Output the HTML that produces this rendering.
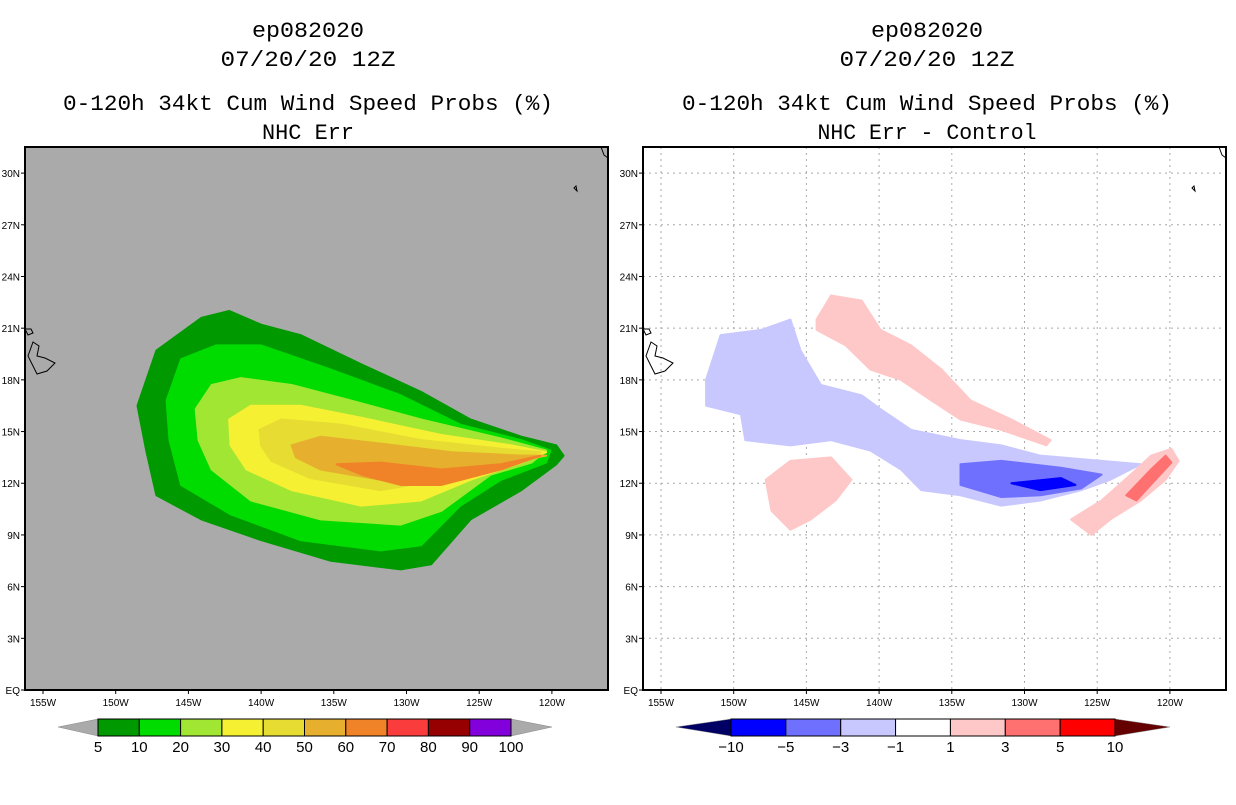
<!DOCTYPE html>
<html><head><meta charset="utf-8"><style>
body{margin:0;background:#fff;width:1236px;height:800px;overflow:hidden}
svg text{font-family:"Liberation Sans",sans-serif;fill:#000}
svg text.t{font-family:"Liberation Mono",monospace}
</style></head><body>
<svg id="s" width="1236" height="800" viewBox="0 0 1236 800">
<g font-size="22" text-anchor="middle">
<text class="t" x="308" y="37" textLength="112" lengthAdjust="spacingAndGlyphs">ep082020</text>
<text class="t" x="308" y="66" textLength="175" lengthAdjust="spacingAndGlyphs">07/20/20 12Z</text>
<text class="t" x="308" y="110" textLength="490" lengthAdjust="spacingAndGlyphs">0-120h 34kt Cum Wind Speed Probs (%)</text>
<text class="t" x="308" y="139" textLength="92" lengthAdjust="spacingAndGlyphs">NHC Err</text></g>
<g font-size="22" text-anchor="middle">
<text class="t" x="927" y="37" textLength="112" lengthAdjust="spacingAndGlyphs">ep082020</text>
<text class="t" x="927" y="66" textLength="175" lengthAdjust="spacingAndGlyphs">07/20/20 12Z</text>
<text class="t" x="927" y="110" textLength="490" lengthAdjust="spacingAndGlyphs">0-120h 34kt Cum Wind Speed Probs (%)</text>
<text class="t" x="927" y="139" textLength="219" lengthAdjust="spacingAndGlyphs">NHC Err - Control</text></g>
<g id="L"></g>
<g id="R"></g>
</svg>
<script>
const lonTicks=[-155,-150,-145,-140,-135,-130,-125,-120];
const latTicks=[0,3,6,9,12,15,18,21,24,27,30];
const probLevels=['5','10','20','30','40','50','60','70','80','90','100'];
const probColors=['#009900','#00dc00','#a0e632','#f5f032','#e6dc32','#e6af2d','#f08228','#fa3c3c','#960000','#8200dc'];
const diffLevels=['-10','-5','-3','-1','1','3','5','10'];
const diffColors=['#0000ff','#7070ff','#c8c8ff','#ffffff','#ffc8c8','#ff7070','#ff0000'];
const p5=[[-148.5,16.5],[-147.2,19.7],[-144.1,21.6],[-142.2,22.0],[-140.0,21.2],[-137.3,20.6],[-133.1,18.9],[-129.0,17.3],[-125.6,15.7],[-122.1,14.7],[-119.7,14.2],[-119.2,13.6],[-119.7,13.1],[-122.1,11.6],[-125.6,9.9],[-128.3,7.3],[-130.4,7.0],[-135.2,7.5],[-140.0,8.7],[-144.1,9.9],[-147.2,11.3],[-147.9,13.9]];
const p10=[[-146.5,16.8],[-145.5,19.2],[-143.1,20.0],[-140.0,20.0],[-135.2,18.6],[-130.4,17.1],[-126.3,15.4],[-122.1,14.5],[-120.1,13.9],[-120.4,13.2],[-123.5,12.2],[-126.3,10.7],[-129.0,8.4],[-131.8,8.1],[-137.3,8.7],[-142.1,10.2],[-145.5,11.9],[-146.3,14.5]];
const p20=[[-144.5,16.3],[-143.4,17.7],[-141.4,18.1],[-137.9,17.7],[-133.8,16.8],[-129.0,15.7],[-123.5,14.6],[-120.4,13.9],[-121.4,13.2],[-124.2,12.5],[-127.6,10.4],[-130.4,9.6],[-135.9,9.9],[-140.7,11.0],[-143.4,12.8],[-144.3,14.5]];
const p30=[[-142.2,15.7],[-140.7,16.5],[-137.3,16.5],[-133.1,15.8],[-127.6,14.8],[-122.8,14.2],[-120.4,13.8],[-122.1,13.2],[-125.6,12.2],[-129.0,11.0],[-133.1,10.7],[-137.9,11.6],[-141.0,12.8],[-142.1,14.2]];
const p40=[[-140.1,15.1],[-138.6,15.7],[-134.5,15.4],[-129.0,14.5],[-123.5,14.0],[-120.8,13.8],[-123.5,13.2],[-127.6,12.2],[-131.8,11.6],[-136.6,12.3],[-139.3,13.3],[-140.0,14.2]];
const p50=[[-137.9,14.2],[-135.9,14.7],[-131.8,14.3],[-126.9,13.8],[-122.1,13.6],[-120.4,13.6],[-123.5,13.1],[-127.6,12.3],[-131.8,12.2],[-135.9,12.8],[-137.6,13.5]];
const p60=[[-134.8,13.1],[-131.8,13.2],[-127.6,12.8],[-123.5,13.1],[-120.8,13.6],[-123.5,12.8],[-127.6,11.9],[-130.4,11.9],[-133.1,12.5]];
const dBlueLight=[[-151.9,18.0],[-150.9,20.6],[-148.1,20.9],[-146.1,21.5],[-145.4,19.7],[-144.0,17.7],[-141.2,17.1],[-139.9,16.3],[-137.8,15.1],[-134.4,14.5],[-131.6,14.2],[-128.9,13.6],[-124.7,13.3],[-122.0,13.1],[-124.1,12.2],[-126.1,11.6],[-128.9,11.0],[-131.6,10.7],[-134.4,11.3],[-137.1,11.6],[-138.5,12.8],[-140.6,13.9],[-143.3,14.5],[-146.1,14.2],[-149.2,14.5],[-149.5,16.0],[-151.9,16.5]];
const dBlueMid=[[-134.4,13.1],[-131.6,13.3],[-127.5,12.9],[-124.7,12.5],[-126.1,11.7],[-128.9,11.3],[-131.6,11.2],[-134.4,11.9]];
const dBlueDark=[[-130.9,12.0],[-127.5,12.3],[-126.5,11.9],[-128.9,11.6]];
const dPinkTop=[[-144.3,21.5],[-143.3,22.9],[-141.2,22.6],[-139.9,20.9],[-137.8,20.0],[-135.7,18.6],[-133.7,16.8],[-130.9,15.7],[-128.2,14.5],[-128.5,14.2],[-131.6,15.1],[-134.4,15.7],[-136.4,16.8],[-138.5,18.0],[-140.6,18.6],[-142.3,20.0],[-144.3,20.9]];
const dPinkLeft=[[-147.8,12.2],[-146.1,13.3],[-143.3,13.5],[-141.9,12.2],[-143.0,11.0],[-144.7,9.9],[-146.1,9.3],[-147.4,10.4]];
const dPinkRight=[[-126.8,9.9],[-124.7,11.0],[-122.7,12.5],[-121.3,13.6],[-119.9,14.0],[-119.4,13.3],[-120.3,12.2],[-122.0,11.0],[-124.1,9.9],[-125.4,9.0]];
const dRed=[[-123.0,11.3],[-121.3,12.8],[-120.3,13.6],[-119.9,13.2],[-121.0,12.2],[-122.3,11.0]];
const NS='http://www.w3.org/2000/svg';
function mk(t,a,p){const e=document.createElementNS(NS,t);for(const k in a)e.setAttribute(k,a[k]);p.appendChild(e);return e;}
function panel(g,x0,bg,grid){
  const x=lon=>x0+18+(lon+155)*14.54, y=lat=>690-lat*17.23;
  const r=mk('rect',{x:x0,y:147,width:583,height:543,fill:bg},g);
  
  
  if(grid){
    lonTicks.forEach(l=>{const e=mk('line',{x1:x(l),x2:x(l),y1:147,y2:690,stroke:'#aaa','stroke-dasharray':'2,4'},g);
      
      });
    latTicks.forEach(l=>{const e=mk('line',{x1:x0,x2:x0+583,y1:y(l),y2:y(l),stroke:'#aaa','stroke-dasharray':'2,4'},g);
      
      });
  }
  return {x,y};
}
function poly(g,ax,pts,fill,name){
  const e=mk('polygon',{points:pts.map(p=>ax.x(p[0])+','+ax.y(p[1])).join(' '),fill:fill,'stroke':fill,'stroke-width':2,'stroke-linejoin':'round'},g);
  
  
}
function frame(g,ax,x0){
  const h=mk('path',{d:`M${x0+8} ${342}l6 4-2 10 8 2 10 5-8 8-10 3-5-10-4-8z M${x0} 329l6 0 2 4-5 2z M${x0+549} 188l2-2 1 5z M${x0+576} 147l3 8 4 3 0-11`,fill:'none',stroke:'#000','stroke-width':1},g);
  
  
  const f=mk('rect',{x:x0,y:147,width:583,height:543,fill:'none',stroke:'#000','stroke-width':2},g);
  
  
  lonTicks.forEach(l=>{mk('line',{x1:ax.x(l),x2:ax.x(l),y1:690,y2:694,stroke:'#000'},g);
    const t=mk('text',{x:ax.x(l),y:706,'font-size':10,'text-anchor':'middle'},g);t.textContent=(-l)+'W';
    
    });
  latTicks.forEach(l=>{mk('line',{x1:x0-4,x2:x0,y1:ax.y(l),y2:ax.y(l),stroke:'#000'},g);
    const t=mk('text',{x:x0-5,y:ax.y(l)+4,'font-size':10,'text-anchor':'end'},g);t.textContent=l==0?'EQ':l+'N';
    
    });
}
function cbar(g,x1,x2,levels,colors,lc,rc,tl,tr){
  const n=colors.length,w=(x2-x1)/n;
  const cb=mk('g',{},g);
  
  
  mk('polygon',{points:`${tl},727 ${x1},719 ${x1},736`,fill:lc,stroke:'#888','stroke-width':0.5},cb);
  mk('polygon',{points:`${tr},727 ${x2},719 ${x2},736`,fill:rc,stroke:'#888','stroke-width':0.5},cb);
  colors.forEach((c,i)=>{mk('rect',{x:x1+i*w,y:719,width:w,height:17,fill:c,stroke:'#000','stroke-width':1},cb);});
  levels.forEach((l,i)=>{const t=mk('text',{x:x1+i*w,y:752,'font-size':15,'text-anchor':'middle'},cb);t.textContent=l.replace('-','\u2212');
    
    });
}
const L=document.getElementById('L'),R=document.getElementById('R');
const a=panel(L,25,'#aaaaaa',false);
[[p5,0],[p10,1],[p20,2],[p30,3],[p40,4],[p50,5],[p60,6]].forEach(([p,i])=>poly(L,a,p,probColors[i],'contour-'+probLevels[i]+'pct'));
frame(L,a,25);
cbar(L,98,511,probLevels,probColors,'#aaa','#aaa',58,552);
const b=panel(R,643,'#ffffff',true);
poly(R,b,dBlueLight,diffColors[2],'diff-minus1-to-minus3');
poly(R,b,dBlueMid,diffColors[1],'diff-minus3-to-minus5');
poly(R,b,dBlueDark,diffColors[0],'diff-minus5-to-minus10');
poly(R,b,dPinkTop,diffColors[4],'diff-plus1-north');
poly(R,b,dPinkLeft,diffColors[4],'diff-plus1-west');
poly(R,b,dPinkRight,diffColors[4],'diff-plus1-east');
poly(R,b,dRed,diffColors[5],'diff-plus3-to-plus5');
frame(R,b,643);
cbar(R,731,1115,diffLevels,diffColors,'#000064','#640000',676,1170);
</script>
</body></html>
